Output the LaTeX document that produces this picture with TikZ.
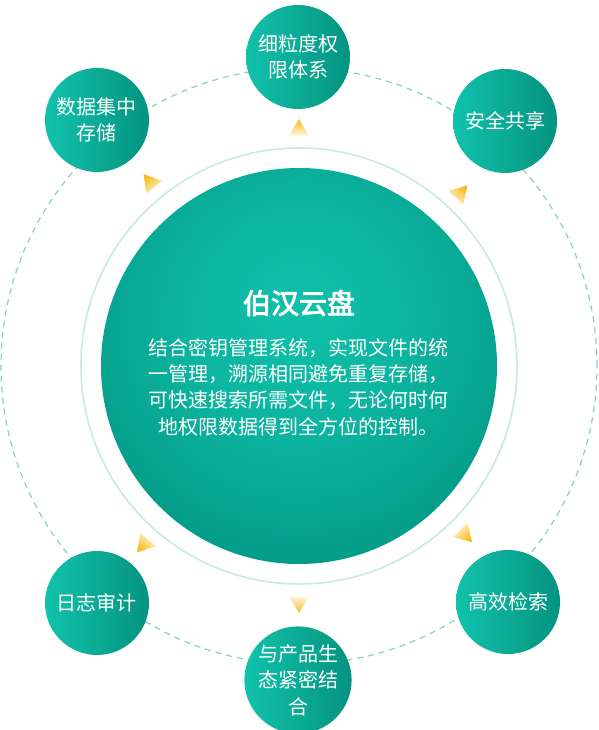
\documentclass[tikz,border=0pt]{standalone}
\usepackage{fontspec}
\newfontfamily\cjk{Noto Sans CJK SC}
\newfontfamily\cjkmed{Noto Sans CJK SC}[FakeBold=3]
\usetikzlibrary{calc}
\definecolor{satL}{HTML}{12C2AB}
\definecolor{satR}{HTML}{04937F}
\definecolor{ringc}{HTML}{C8EAE4}
\definecolor{dashc}{HTML}{88D0C6}
\definecolor{triY}{HTML}{F7BA1A}
\definecolor{triP}{HTML}{FFF8E2}
\definecolor{bcA}{HTML}{10C0AA}
\definecolor{bcB}{HTML}{049C89}
\definecolor{bcC}{HTML}{008373}
\pgfdeclareradialshading{bigball}{\pgfpoint{0bp}{8bp}}{color(0bp)=(bcA); color(14bp)=(bcA!70!bcB); color(30bp)=(bcB); color(44bp)=(bcC!70!bcB); color(56bp)=(bcC); color(80bp)=(bcC)}
\tikzset{
  sat/.style={circle, minimum size=104pt, inner sep=0pt, left color=satL, right color=satR,
    text=white, font=\cjk\fontsize{20}{26.5}\selectfont, align=center},
  tri/.style={top color=triY, bottom color=triP},
}
\begin{document}
\begin{tikzpicture}[x=1pt,y=1pt]
\useasboundingbox (-299,-364) rectangle (299,366);
\fill[white] (-299,-364) rectangle (299,366);
% outer dashed orbit
\draw[dashc, line width=1.2pt, dash pattern=on 6pt off 5pt] (0,0) circle (298pt);
% light ring
\draw[ringc, line width=1.6pt] (0,0) circle (218pt);
% central ball
\shade[shading=bigball] (0,0) circle (198pt);
\node[font=\cjkmed\fontsize{28}{34}\selectfont, text=white] (title) at (0,63) {伯汉云盘};
\node[font=\cjk\fontsize{20}{26.4}\selectfont, text=white, align=center] (desc) at (0,-21)
  {结合密钥管理系统，实现文件的统\\一管理，溯源相同避免重复存储，\\可快速搜索所需文件，无论何时何\\地权限数据得到全方位的控制。};
% satellites
\node[sat] (perm)  at (-1,309)   {细粒度权\\限体系};
\node[sat] (share) at (206,245)  {安全共享};
\node[sat] (search) at (209,-236) {高效检索};
\node[sat] (eco)   at (-1,-314)  {与产品生\\态紧密结\\合};
\node[sat] (log)   at (-202,-237) {日志审计};
\node[sat] (store) at (-202,246) {数据集中\\存储};
% yellow pointers
\foreach \a [evaluate=\a as \s using \a-90] in {90,47,-45.5,-90,-131,129} {
  \shade[tri, shading angle=\s] (\a:247pt) -- ($(\a:230pt)+(\a+90:10pt)$) -- ($(\a:230pt)+(\a-90:10pt)$) -- cycle;
}
\end{tikzpicture}
\end{document}
